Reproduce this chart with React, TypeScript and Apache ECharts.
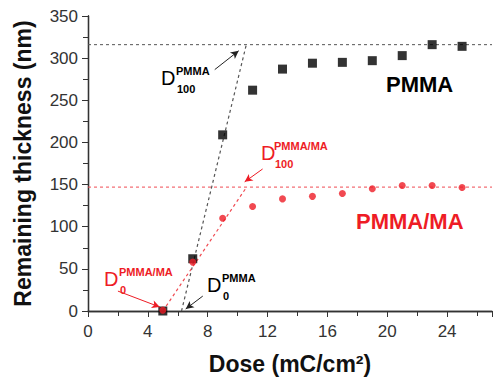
import React, { useEffect, useRef } from "react";
import * as echarts from "echarts";

const doses = [5, 7, 9, 11, 13, 15, 17, 19, 21, 23, 25];
const pmma = [0, 62, 209, 262, 287, 294, 295, 297, 303, 316, 314];
const pmmaMa = [1, 58, 110, 124, 133, 136, 139.5, 145, 149, 149, 146.5];

const pmmaFit = [[6.25, 0], [10.58, 316]];
const pmmaMaFit = [[5, 0], [10.6, 147]];
const pmmaSat = 316;
const pmmaMaSat = 147;

const xTicks = { min: 0, max: 27, interval: 4 };
const yTicks = { min: 0, max: 350, interval: 50 };

// annotation arrows [from, to] in data units
const arrowsBlack = [
  [[8.47, 286.4], [10.07, 308.7]],
  [[7.67, 17.7], [6.53, 2.4]],
];
const arrowsRed = [
  [[11.67, 168.5], [10.47, 153.2]],
  [[2.0, 23.6], [4.8, 4.7]],
];

const FONT = "'Liberation Sans', Arial, sans-serif";
const RED = "#ee1c25";
const BLACK = "#000";

function dLabel(x: number, y: number, sup: string, sub: string, color: string, dx: number) {
  return [
    { type: "text", left: x, top: y - 12, z: 100, style: { text: "D", font: `20px ${FONT}`, fill: color } },
    { type: "text", left: x + dx, top: y - 15, z: 100, style: { text: sup, font: `bold 11px ${FONT}`, fill: color } },
    { type: "text", left: x + dx + 1, top: y + 3, z: 100, style: { text: sub, font: `bold 11px ${FONT}`, fill: color } },
  ];
}

export default function App() {
  const ref = useRef<HTMLDivElement>(null);
  useEffect(() => {
    if (!ref.current) return;
    const chart = echarts.init(ref.current, undefined, { renderer: "svg" });
    const axisLine = { lineStyle: { color: "#333", width: 1.3 } };
    const mkArrows = (arr: number[][][]) =>
      arr.map((a) => [{ coord: a[0] }, { coord: a[1] }]);
    chart.setOption({
      animation: false,
      textStyle: { fontFamily: FONT },
      grid: { left: 88, right: 2, top: 16, bottom: 67 },
      xAxis: [
        {
          type: "value",
          ...xTicks,
          name: "Dose (mC/cm²)",
          nameLocation: "middle",
          nameGap: 41,
          nameTextStyle: { fontSize: 23, fontWeight: "bold", color: "#111", fontFamily: FONT },
          axisLine,
          axisTick: { show: true, length: 6, lineStyle: { color: "#333" } },
          minorTick: { show: true, splitNumber: 2, length: 4, lineStyle: { color: "#333" } },
          splitLine: { show: false },
          axisLabel: { fontSize: 17, color: "#333", margin: 12, fontFamily: FONT, showMaxLabel: false },
        },
        {
          type: "value",
          position: "top",
          ...xTicks,
          axisLine,
          axisTick: { show: true, inside: true, length: 5, lineStyle: { color: "#333" } },
          minorTick: { show: true, splitNumber: 2, length: 5, lineStyle: { color: "#333" } },
          splitLine: { show: false },
          axisLabel: { show: false },
        },
      ],
      yAxis: [
        {
          type: "value",
          ...yTicks,
          name: "Remaining thickness (nm)",
          nameLocation: "middle",
          nameGap: 54,
          nameTextStyle: { fontSize: 23, fontWeight: "bold", color: "#111", fontFamily: FONT },
          axisLine,
          axisTick: { show: true, length: 6, lineStyle: { color: "#333" } },
          minorTick: { show: true, splitNumber: 2, length: 4, lineStyle: { color: "#333" } },
          splitLine: { show: false },
          axisLabel: { fontSize: 17, color: "#333", margin: 10, fontFamily: FONT },
        },
        {
          type: "value",
          position: "right",
          ...yTicks,
          axisLine,
          axisTick: { show: true, inside: true, length: 5, lineStyle: { color: "#333" } },
          minorTick: { show: true, splitNumber: 2, length: 5, lineStyle: { color: "#333" } },
          splitLine: { show: false },
          axisLabel: { show: false },
        },
      ],
      series: [
        {
          type: "line",
          data: [[xTicks.min, pmmaSat], [xTicks.max, pmmaSat]],
          symbol: "none",
          lineStyle: { color: "#555", width: 1, type: [3, 3] },
          z: 1,
        },
        {
          type: "line",
          data: [[xTicks.min, pmmaMaSat], [xTicks.max, pmmaMaSat]],
          symbol: "none",
          lineStyle: { color: "#f04b52", width: 1, type: [3, 3] },
          z: 1,
        },
        {
          type: "line",
          data: pmmaFit,
          symbol: "none",
          lineStyle: { color: "#555", width: 1.2, type: [3, 3] },
          z: 1,
        },
        {
          type: "line",
          data: pmmaMaFit,
          symbol: "none",
          lineStyle: { color: "#f04b52", width: 1.2, type: [3, 3] },
          z: 1,
        },
        {
          type: "scatter",
          data: doses.map((d, i) => [d, pmma[i]]),
          symbol: "rect",
          symbolSize: 9,
          itemStyle: { color: BLACK },
          z: 3,
        },
        {
          type: "scatter",
          data: doses.map((d, i) => [d, pmmaMa[i]]),
          symbol: "circle",
          symbolSize: 7,
          itemStyle: { color: RED },
          z: 4,
        },
        {
          type: "line",
          data: [],
          markLine: {
            silent: true,
            symbol: ["none", "arrow"],
            symbolSize: [6, 8],
            label: { show: false },
            lineStyle: { color: "#222", width: 1, type: "solid" },
            data: mkArrows(arrowsBlack),
          },
        },
        {
          type: "line",
          data: [],
          markLine: {
            silent: true,
            symbol: ["none", "arrow"],
            symbolSize: [6, 8],
            label: { show: false },
            lineStyle: { color: RED, width: 1, type: "solid" },
            data: mkArrows(arrowsRed),
          },
        },
      ],
      graphic: [
        ...dLabel(161, 80, "PMMA", "100", BLACK, 15),
        ...dLabel(261, 155, "PMMA/MA", "100", RED, 13),
        ...dLabel(104, 281, "PMMA/MA", "0", RED, 15),
        ...dLabel(207, 287, "PMMA", "0", BLACK, 15),
        { type: "text", left: 386, top: 73, z: 100, style: { text: "PMMA", font: `bold 22px ${FONT}`, fill: BLACK } },
        { type: "text", left: 356, top: 210, z: 100, style: { text: "PMMA/MA", font: `bold 22px ${FONT}`, fill: RED } },
      ],
    });
    return () => chart.dispose();
  }, []);
  return <div ref={ref} style={{ position: "absolute", left: 0, top: 0, width: 494, height: 380 }} />;
}
